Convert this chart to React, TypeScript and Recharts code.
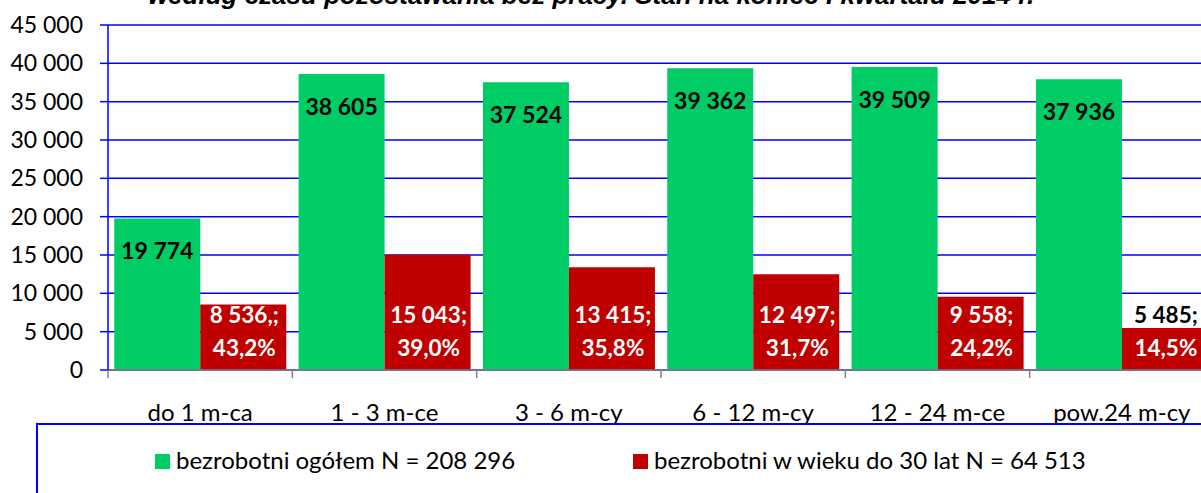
import { Bar, BarChart, CartesianGrid, LabelList, XAxis, YAxis } from 'recharts';

const categories = ['do 1 m-ca', '1 - 3 m-ce', '3 - 6 m-cy', '6 - 12 m-cy', '12 - 24 m-ce', 'pow.24 m-cy'];
const totalUnemployed = [19774, 38605, 37524, 39362, 39509, 37936];
const youthUnemployed = [8536, 15043, 13415, 12497, 9558, 5485];
const youthSeparators = [',;', ';', ';', ';', ';', ';'];
const yTicks = [0, 5000, 10000, 15000, 20000, 25000, 30000, 35000, 40000, 45000];

const totalName = 'bezrobotni ogółem N = 208 296';
const youthName = 'bezrobotni w wieku do 30 lat N = 64 513';
const title = 'według czasu pozostawania bez pracy. Stan na koniec I kwartału 2014 r.';

const GREEN = '#00CC66';
const RED = '#C00000';
const BLUE = '#0000FF';
const FONT = 'Lato, sans-serif';

const CHART_W = 1230;
const CHART_H = 493;
const AXIS_W = 108;
const RIGHT = 16;
const BAND = (CHART_W - AXIS_W - RIGHT) / categories.length;

const data = categories.map((name, i) => ({
  name,
  total: totalUnemployed[i],
  youth: youthUnemployed[i],
}));

const fmt = (v: number) => String(v).replace(/\B(?=(\d{3})+(?!\d))/g, ' ');
const pct = (i: number) => ((youthUnemployed[i] / totalUnemployed[i]) * 100).toFixed(1).replace('.', ',') + '%';

const legendItems = [
  { name: totalName, color: GREEN, x: 155 },
  { name: youthName, color: RED, x: 633 },
];

const CategoryTick = ({ x, y, payload }: any) => (
  <g>
    <line x1={x - BAND / 2} x2={x - BAND / 2} y1={y} y2={y + 8} stroke="#808080" strokeWidth={1.5} />
    <text x={x} y={y + 51} textAnchor="middle" fill="#000" fontSize={24} fontFamily={FONT}>
      {payload.value}
    </text>
  </g>
);

const TotalLabel = (props: any) => {
  const { x, y, width, index } = props;
  return (
    <text
      x={x + width / 2}
      y={y + 32}
      textAnchor="middle"
      dominantBaseline="central"
      fill="#000"
      fontSize={23}
      fontWeight="bold"
      fontFamily={FONT}
    >
      {fmt(totalUnemployed[index])}
    </text>
  );
};

const YouthLabel = (props: any) => {
  const { x, y, width, height, index } = props;
  const base = y + height;
  const lines = [fmt(youthUnemployed[index]) + youthSeparators[index], pct(index)];
  const offsets = [56, 23];
  return (
    <g>
      {lines.map((t, i) => {
        const ly = base - offsets[i];
        return (
          <text
            key={i}
            x={x + width / 2 + 1}
            y={ly}
            textAnchor="middle"
            dominantBaseline="central"
            fill={ly < y ? '#000' : '#fff'}
            fontSize={22.5}
            fontWeight="bold"
            fontFamily={FONT}
          >
            {t}
          </text>
        );
      })}
    </g>
  );
};

export default function App() {
  return (
    <div
      style={{
        position: 'fixed',
        left: 0,
        top: 0,
        width: 1201,
        height: 493,
        overflow: 'hidden',
        background: '#fff',
        fontFamily: FONT,
      }}
    >
      <BarChart
        width={CHART_W}
        height={CHART_H}
        data={data}
        margin={{ top: 25, right: RIGHT, left: 0, bottom: 0 }}
        barCategoryGap="3.4%"
        barGap={0}
      >
        <CartesianGrid vertical={false} stroke={BLUE} strokeWidth={1.5} />
        <XAxis
          dataKey="name"
          height={123}
          tick={<CategoryTick />}
          tickLine={false}
          tickSize={0}
          tickMargin={0}
          axisLine={{ stroke: '#808080', strokeWidth: 1.5 }}
          interval={0}
        />
        <YAxis
          width={AXIS_W}
          domain={[0, 45000]}
          ticks={yTicks}
          interval={0}
          tickFormatter={fmt}
          tickSize={8}
          tickMargin={17}
          axisLine={{ stroke: BLUE, strokeWidth: 1.5 }}
          tickLine={{ stroke: BLUE, strokeWidth: 1.5 }}
          tick={{ fill: '#000', fontSize: 23, fontFamily: FONT }}
        />
        <Bar dataKey="total" name={totalName} fill={GREEN} isAnimationActive={false}>
          <LabelList dataKey="total" content={<TotalLabel />} />
        </Bar>
        <Bar dataKey="youth" name={youthName} fill={RED} isAnimationActive={false}>
          <LabelList dataKey="youth" content={<YouthLabel />} />
        </Bar>
      </BarChart>

      <svg
        width={1201}
        height={493}
        style={{ position: 'absolute', left: 0, top: 0, pointerEvents: 'none' }}
      >
        <text
          x={591}
          y={4}
          textAnchor="middle"
          fontFamily="'Liberation Sans', Arial, sans-serif"
          fontStyle="italic"
          fontWeight="bold"
          fontSize={26}
          fill="#000"
        >
          {title}
        </text>
        <rect x={37} y={424} width={1200} height={120} fill="none" stroke={BLUE} strokeWidth={2} />
        {legendItems.map((item) => (
          <g key={item.name}>
            <rect x={item.x} y={454} width={15} height={15} fill={item.color} />
            <text x={item.x + 21} y={469} fill="#000" fontSize={24} fontFamily={FONT}>
              {item.name}
            </text>
          </g>
        ))}
      </svg>
    </div>
  );
}
